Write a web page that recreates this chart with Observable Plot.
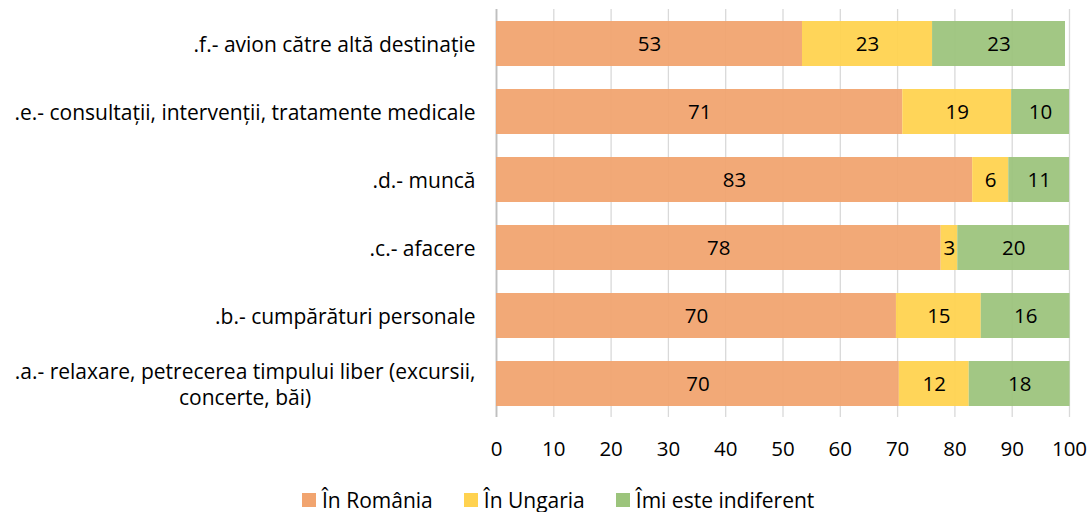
<!DOCTYPE html>
<html>
<head>
<meta charset="utf-8">
<script src="https://cdn.jsdelivr.net/npm/d3@7"></script>
<script src="https://cdn.jsdelivr.net/npm/@observablehq/plot@0.6"></script>
<style>
  body { margin: 0; background: #fff; font-family: "Open Sans", sans-serif; }
  #chart { width: 1089px; }
  .leg-swatches-wrap { padding-left: 302px; min-height: 29px !important; margin-top: 18px; align-items: center; }
  .leg-swatch { margin-right: 31px !important; }
  .leg-swatch > svg { margin-right: 6px !important; }
</style>
</head>
<body>
<div id="chart"></div>
<script>
const categories = [
  ".f.- avion către altă destinație",
  ".e.- consultații, intervenții, tratamente medicale",
  ".d.- muncă",
  ".c.- afacere",
  ".b.- cumpărături personale",
  ".a.- relaxare, petrecerea timpului liber (excursii, concerte, băi)"
];
const series = ["În România", "În Ungaria", "Îmi este indiferent"];
const colors = ["#F1A46F", "#FFD24F", "#9CC47C"];
const romania   = [53.4, 70.9, 83.1, 77.6, 69.8, 70.3];
const ungaria   = [22.7, 19.0, 6.3, 2.9, 14.8, 12.2];
const indiferent = [23.2, 10.1, 10.6, 19.5, 15.5, 17.6];
const xTicks = [0, 10, 20, 30, 40, 50, 60, 70, 80, 90, 100];

const seriesValues = [romania, ungaria, indiferent];
const data = [];
series.forEach((s, si) => {
  categories.forEach((c, ci) => {
    data.push({cat: c, series: s, value: seriesValues[si][ci]});
  });
});

const labelLines = (c) => c.startsWith(".a.-")
  ? ".a.- relaxare, petrecerea timpului liber (excursii,\nconcerte, băi)"
  : c;

const font = "'Open Sans', sans-serif";
const plot = Plot.plot({
  width: 1089,
  height: 467,
  marginLeft: 496,
  marginRight: 20,
  marginTop: 9,
  marginBottom: 50,
  style: {fontFamily: font, fontSize: "20.5px", color: "#000", background: "#fff"},
  x: {domain: [0, 100], axis: null, label: null},
  y: {domain: categories, paddingInner: 23/68, paddingOuter: 11.5/68, axis: null, label: null},
  color: {domain: series, range: colors},
  marks: [
    Plot.gridX(xTicks, {stroke: "#d9d9d9", strokeOpacity: 1, strokeWidth: 1.3}),
    Plot.ruleX([0], {stroke: "#bfbfbf", strokeWidth: 1.8}),
    Plot.barX(data, Plot.stackX({x: "value", y: "cat", fill: "series", z: "series", fillOpacity: 0.94})),
    Plot.text(data, Plot.stackX({x: "value", y: "cat", z: "series", text: d => String(Math.round(d.value)), fill: "#000", fontSize: 20.5})),
    Plot.axisX(xTicks, {anchor: "bottom", tickSize: 0, tickPadding: 24, fontSize: 20.5, fill: "#000", label: null}),
    Plot.axisY({anchor: "left", tickSize: 0, tickPadding: 21, fontSize: 21, fill: "#000", tickFormat: labelLines, lineHeight: 1.24, label: null})
  ]
});

const legend = Plot.legend({
  color: {domain: series, range: colors},
  legend: "swatches",
  swatchSize: 14,
  className: "leg",
  style: {fontFamily: font, fontSize: "21px", color: "#000"}
});

const chart = document.getElementById("chart");
chart.appendChild(plot);
chart.appendChild(legend);

// center the second line of the wrapped label under the first line
d3.select(plot).selectAll("text").each(function() {
  const tspans = this.querySelectorAll("tspan");
  if (tspans.length === 2) {
    const w = tspans[0].getComputedTextLength();
    const x0 = +(tspans[0].getAttribute("x") || 0);
    tspans[1].setAttribute("x", x0 - w / 2);
    tspans[1].setAttribute("text-anchor", "middle");
  }
});
</script>
</body>
</html>
